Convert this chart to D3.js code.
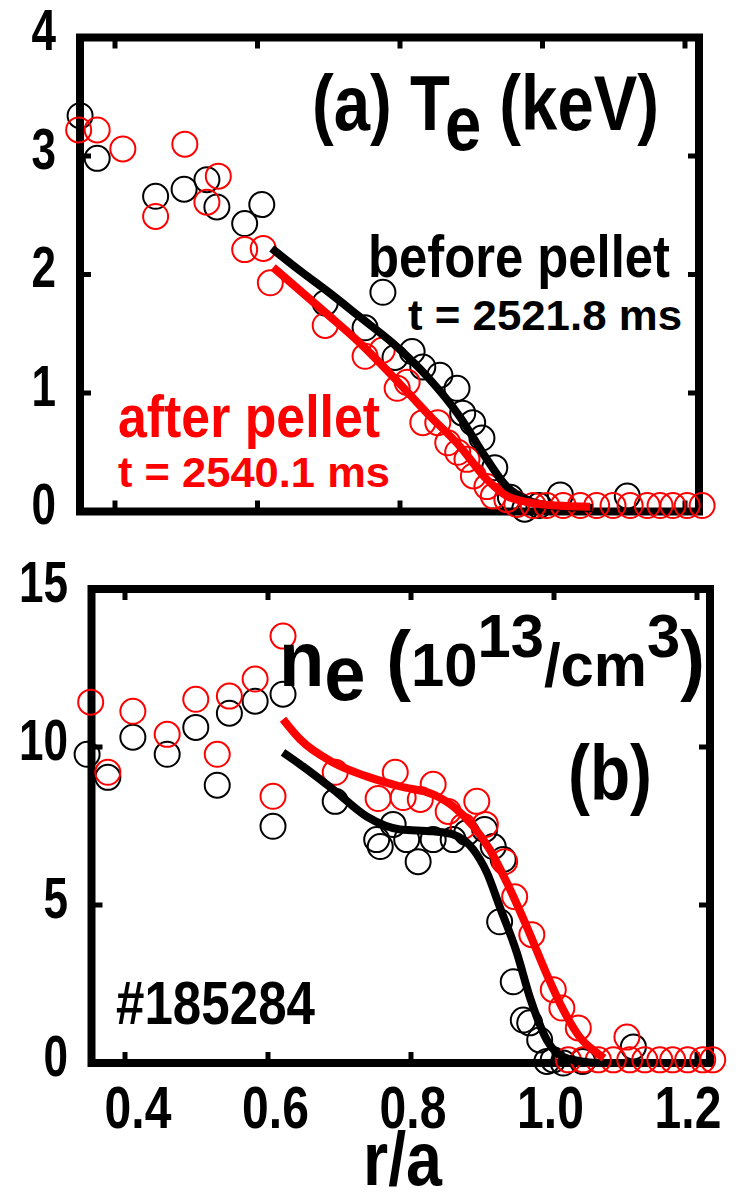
<!DOCTYPE html>
<html>
<head>
<meta charset="utf-8">
<script src="https://cdn.jsdelivr.net/npm/d3@7"></script>
<style>
    body { margin: 0; background: #fff; }
    svg text { font-family: "Liberation Sans", Arial, sans-serif; font-weight: bold; }
</style>
</head>
<body>
<svg id="chart" width="741" height="1192"></svg>
<script>
// ---- data ----
// (a) electron temperature, keV
const teBeforeRho = [0.351, 0.375, 0.457, 0.497, 0.529, 0.543, 0.582, 0.606, 0.695, 0.751, 0.776, 0.793, 0.817, 0.832, 0.856, 0.880, 0.888, 0.902, 0.915, 0.933, 0.955, 0.975, 0.995, 1.025, 1.119];
const teBefore    = [3.34, 2.98, 2.66, 2.72, 2.80, 2.57, 2.43, 2.59, 1.76, 1.55, 1.85, 1.30, 1.35, 1.22, 1.15, 1.04, 0.83, 0.75, 0.62, 0.37, 0.12, 0.02, 0.05, 0.14, 0.13];
const teAfterRho  = [0.349, 0.375, 0.411, 0.457, 0.498, 0.529, 0.545, 0.582, 0.608, 0.618, 0.695, 0.751, 0.775, 0.796, 0.810, 0.832, 0.853, 0.867, 0.881, 0.894, 0.903, 0.922, 0.931, 0.950, 0.964, 0.987, 1.006, 1.029, 1.053, 1.076, 1.099, 1.123, 1.147, 1.165, 1.183, 1.203, 1.224];
const teAfter     = [3.22, 3.22, 3.06, 2.49, 3.10, 2.61, 2.83, 2.21, 2.22, 1.93, 1.57, 1.31, 1.36, 1.04, 1.09, 0.75, 0.75, 0.58, 0.50, 0.44, 0.30, 0.21, 0.13, 0.10, 0.06, 0.05, 0.05, 0.05, 0.05, 0.05, 0.05, 0.05, 0.05, 0.05, 0.05, 0.05, 0.05];
const teFitBeforeRho = [0.62, 0.66, 0.70, 0.744, 0.79, 0.838, 0.884, 0.922, 0.95, 0.978, 1.01, 1.07];
const teFitBefore    = [2.22, 2.03, 1.85, 1.64, 1.42, 1.14, 0.80, 0.44, 0.21, 0.10, 0.05, 0.03];
const teFitAfterRho  = [0.622, 0.697, 0.744, 0.79, 0.838, 0.884, 0.922, 0.95, 0.978, 1.02, 1.067];
const teFitAfter     = [2.06, 1.67, 1.42, 1.14, 0.83, 0.55, 0.27, 0.13, 0.08, 0.05, 0.04];

// (b) electron density, 10^13 / cm^3
const neBeforeRho = [0.347, 0.376, 0.411, 0.459, 0.499, 0.529, 0.546, 0.582, 0.607, 0.621, 0.694, 0.752, 0.757, 0.775, 0.794, 0.810, 0.831, 0.859, 0.878, 0.903, 0.915, 0.924, 0.929, 0.943, 0.957, 0.966, 0.980, 0.990, 0.999, 1.013, 1.040, 1.111];
const neBefore    = [9.77, 9.04, 10.31, 9.77, 10.62, 8.79, 11.07, 11.45, 7.49, 11.67, 8.28, 7.07, 6.85, 7.55, 7.07, 6.37, 7.07, 7.07, 7.29, 7.39, 6.85, 4.47, 6.44, 2.57, 1.36, 1.27, 0.73, 0.05, 0.10, 0.00, 0.05, 0.51];
const neAfterRho  = [0.352, 0.376, 0.411, 0.459, 0.499, 0.529, 0.546, 0.582, 0.607, 0.621, 0.694, 0.754, 0.778, 0.789, 0.813, 0.831, 0.852, 0.873, 0.892, 0.904, 0.931, 0.945, 0.969, 0.999, 1.011, 1.034, 1.102, 1.020, 1.041, 1.062, 1.083, 1.106, 1.127, 1.148, 1.166, 1.187, 1.208, 1.222];
const neAfter     = [11.42, 9.20, 11.13, 10.40, 11.51, 9.77, 11.61, 12.15, 8.44, 13.51, 9.20, 8.37, 9.20, 8.40, 8.34, 8.82, 7.96, 7.49, 8.28, 7.55, 6.37, 5.26, 4.06, 2.32, 1.74, 1.11, 0.82, 0.10, 0.10, 0.10, 0.10, 0.10, 0.10, 0.10, 0.10, 0.10, 0.10, 0.10];
const neFitBeforeRho = [0.621, 0.645, 0.691, 0.738, 0.785, 0.831, 0.859, 0.887, 0.906, 0.924, 0.948, 0.966, 0.990, 1.013, 1.05, 1.07];
const neFitBefore    = [9.83, 9.45, 8.66, 7.80, 7.39, 7.33, 7.23, 6.76, 6.03, 4.95, 3.49, 2.10, 0.73, 0.19, 0.02, 0.0];
const neFitAfterRho  = [0.621, 0.645, 0.691, 0.738, 0.785, 0.831, 0.859, 0.887, 0.910, 0.934, 0.962, 0.990, 1.013, 1.036, 1.060, 1.07];
const neFitAfter     = [10.88, 10.24, 9.51, 9.07, 8.75, 8.50, 8.12, 7.49, 6.76, 5.71, 4.31, 2.80, 1.68, 0.82, 0.32, 0.15];

const xTicks  = [0.4, 0.6, 0.8, 1.0, 1.2];
const yTicksA = [0, 1, 2, 3, 4];
const yTicksB = [0, 5, 10, 15];

const RED = '#ff0000';
const svg = d3.select('#chart');

// ---- panel frames / scales ----
const xA = d3.scaleLinear().domain([0.4, 1.2]).range([115, 685]);
const yA = d3.scaleLinear().domain([0, 4]).range([511.5, 37.5]);
const xB = d3.scaleLinear().domain([0.4, 1.2]).range([125, 697]);
const yB = d3.scaleLinear().domain([0, 15]).range([1063, 589]);

const frameA = { left: 80, right: 699, top: 37.5, bottom: 511.5 };
const frameB = { left: 91.5, right: 710, top: 589, bottom: 1063 };

const zip = (xs, ys) => xs.map((x, i) => ({ x, y: ys[i] }));

function drawFrame(f, x, y, yTicks, labelRight) {
    const g = svg.append('g');
    g.append('rect')
        .attr('x', f.left).attr('y', f.top)
        .attr('width', f.right - f.left).attr('height', f.bottom - f.top)
        .attr('fill', 'none').attr('stroke', '#000').attr('stroke-width', 8);

    // inward ticks on all four sides
    xTicks.forEach(t => {
        g.append('line').attr('x1', x(t)).attr('x2', x(t)).attr('y1', f.bottom).attr('y2', f.bottom - 11)
            .attr('stroke', '#000').attr('stroke-width', 5);
        g.append('line').attr('x1', x(t)).attr('x2', x(t)).attr('y1', f.top).attr('y2', f.top + 11)
            .attr('stroke', '#000').attr('stroke-width', 5);
    });
    yTicks.forEach(t => {
        g.append('line').attr('x1', f.left).attr('x2', f.left + 11).attr('y1', y(t)).attr('y2', y(t))
            .attr('stroke', '#000').attr('stroke-width', 5);
        g.append('line').attr('x1', f.right).attr('x2', f.right - 11).attr('y1', y(t)).attr('y2', y(t))
            .attr('stroke', '#000').attr('stroke-width', 5);
        g.append('text')
            .attr('transform', `translate(${labelRight},${y(t) + 12.5}) scale(0.76,1)`)
            .attr('text-anchor', 'end').attr('font-size', 58).text(t);
    });
    return g;
}

function drawData(before, after, fitBefore, fitAfter, x, y) {
    const g = svg.append('g');
    const circles = (data, color) => g.selectAll(null).data(data).enter().append('circle')
        .attr('cx', d => x(d.x)).attr('cy', d => y(d.y)).attr('r', 12.5)
        .attr('fill', 'none').attr('stroke', color).attr('stroke-width', 2);
    circles(before, '#000');
    circles(after, RED);

    const line = d3.line().x(d => x(d.x)).y(d => y(d.y)).curve(d3.curveMonotoneX);
    g.append('path').attr('d', line(fitBefore)).attr('fill', 'none').attr('stroke', '#000').attr('stroke-width', 8);
    g.append('path').attr('d', line(fitAfter)).attr('fill', 'none').attr('stroke', RED).attr('stroke-width', 8);
}

// text squeezed to the width it takes in the figure;
// parts = [[string, fontSize, baselineShift], ...]
function label(parts, x0, x1, baseline, color) {
    const t = svg.append('text')
        .attr('x', x0).attr('y', baseline)
        .attr('fill', color || '#000')
        .attr('textLength', x1 - x0).attr('lengthAdjust', 'spacingAndGlyphs');
    let shift = 0;
    parts.forEach(([s, size, dy]) => {
        t.append('tspan').attr('font-size', size).attr('dy', (dy || 0) - shift).text(s);
        shift = dy || 0;
    });
}

// panel (a)
drawFrame(frameA, xA, yA, yTicksA, 56);
drawData(zip(teBeforeRho, teBefore), zip(teAfterRho, teAfter),
         zip(teFitBeforeRho, teFitBefore), zip(teFitAfterRho, teFitAfter), xA, yA);

label([['(a) T', 77], ['e', 77, 20], [' (keV)', 77]], 312, 659, 130);
label([['before pellet', 60]], 368, 670, 277);
label([['t = 2521.8 ms', 42]], 408, 682, 330);
label([['after pellet', 60]], 118, 380, 437, RED);
label([['t = 2540.1 ms', 42]], 118, 390, 487, RED);

// panel (b)
drawFrame(frameB, xB, yB, yTicksB, 68);
drawData(zip(neBeforeRho, neBefore), zip(neAfterRho, neAfter),
         zip(neFitBeforeRho, neFitBefore), zip(neFitAfterRho, neFitAfter), xB, yB);

// x tick labels under panel (b)
xTicks.forEach(t => {
    svg.append('text')
        .attr('transform', `translate(${xB(t) * 0.9615 + 17.8},1128) scale(0.8,1)`)
        .attr('text-anchor', 'middle').attr('font-size', 60).text(t.toFixed(1));
});

label([['n', 77], ['e', 77, 14], [' (', 77], ['10', 62], ['13', 62, -29], ['/cm', 62], ['3', 62, -29], [')', 77]], 279, 705, 686);
label([['(b)', 77]], 568, 652, 800);
label([['#185284', 62]], 116, 315, 1024);
label([['r/a', 76]], 363, 442, 1185);
</script>
</body>
</html>
